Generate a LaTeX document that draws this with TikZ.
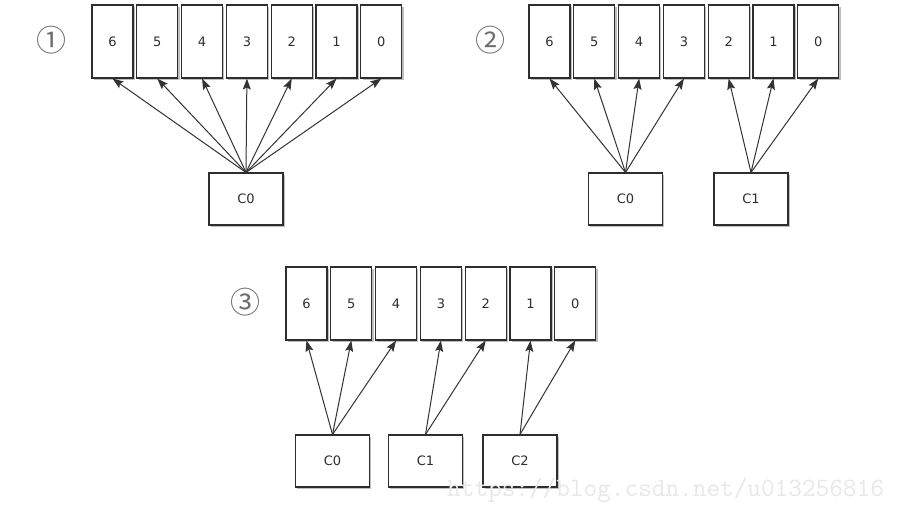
\documentclass[tikz,border=0pt]{standalone}
\usepackage{fontspec}
\setsansfont{DejaVu Sans}
\setmonofont{Latin Modern Mono}
\newfontfamily\cjk{Noto Sans CJK SC}
\usetikzlibrary{arrows.meta,shadows}
\definecolor{ink}{HTML}{2E2E2E}
\definecolor{arr}{HTML}{333333}
\tikzset{
  cell/.style={draw=ink, line width=1.1pt, fill=white, minimum width=41pt, minimum height=73pt,
    inner sep=0pt, text=ink, font=\sffamily\fontsize{13}{15}\selectfont,
    drop shadow={shadow xshift=1.8pt, shadow yshift=-1.8pt, opacity=0.25, fill=black}},
  cbox/.style={cell, minimum width=74pt, minimum height=52pt},
  ptr/.style={draw=arr, line width=1pt, -{Stealth[length=11pt,width=8pt,inset=2pt]}},
  lbl/.style={text=ink!70, font=\cjk\fontsize{30}{32}\selectfont, inner sep=0pt},
  wm/.style={text=black!9, font=\ttfamily\fontsize{26.5}{28}\selectfont, inner sep=0pt, anchor=base west}
}
\begin{document}
\begin{tikzpicture}[x=1pt,y=-1pt]
\useasboundingbox[fill=white] (0,0) rectangle (921,504);
% panel 1
\node[lbl] (n1) at (51,40) {①};
\foreach \d [count=\i from 0] in {6,5,4,3,2,1,0}
  \node[cell] (a\d) at ({112.5+\i*44.8},41.5) {\d};
\node[cbox] (ac0) at (246,199) {C0};
\foreach \d in {6,5,4,3,2,1,0}
  \draw[ptr] (ac0.north) -- (a\d.south);
% panel 2
\node[lbl] (n2) at (490,40) {②};
\foreach \d [count=\i from 0] in {6,5,4,3,2,1,0}
  \node[cell] (b\d) at ({549.5+\i*44.8},41.5) {\d};
\node[cbox] (bc0) at (625.5,199) {C0};
\node[cbox] (bc1) at (751,199) {C1};
\foreach \d in {6,5,4,3}
  \draw[ptr] (bc0.north) -- (b\d.south);
\foreach \d in {2,1,0}
  \draw[ptr] (bc1.north) -- (b\d.south);
% panel 3
\node[lbl] (n3) at (245,302) {③};
\foreach \d [count=\i from 0] in {6,5,4,3,2,1,0}
  \node[cell] (c\d) at ({306.5+\i*44.8},303.5) {\d};
\node[cbox] (cc0) at (332.5,461) {C0};
\node[cbox] (cc1) at (425.5,461) {C1};
\node[cbox] (cc2) at (520,461) {C2};
\foreach \d in {6,5,4}
  \draw[ptr] (cc0.north) -- (c\d.south);
\foreach \d in {3,2}
  \draw[ptr] (cc1.north) -- (c\d.south);
\foreach \d in {1,0}
  \draw[ptr] (cc2.north) -- (c\d.south);
% watermark
\node[wm] (wmk) at (447,496) {https://blog.csdn.net/u013256816};
\end{tikzpicture}
\end{document}
